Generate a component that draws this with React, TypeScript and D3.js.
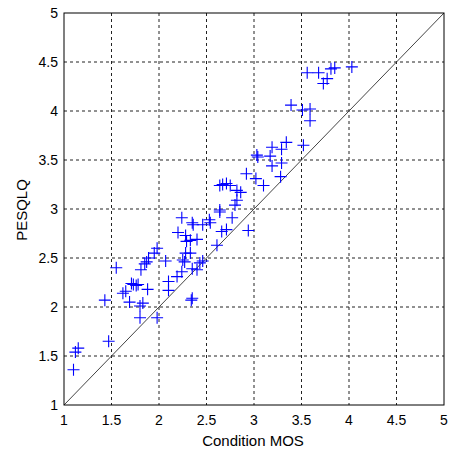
import React from "react";
import * as d3 from "d3";

const mosValues = [
  1.10, 1.12, 1.15, 1.47, 1.43, 1.55, 1.62, 1.65, 1.69, 1.71, 1.73, 1.76, 1.78, 1.80, 1.80, 1.83, 1.88, 1.98, 1.81, 1.85, 1.87, 1.89, 1.95, 1.98,
  2.07, 2.10, 2.10, 2.19, 2.24, 2.25, 2.27, 2.28, 2.33, 2.35, 2.40, 2.43, 2.46, 2.35, 2.34, 2.20, 2.28, 2.29, 2.33, 2.40, 2.24, 2.35, 2.36, 2.46, 2.54, 2.53, 2.61, 2.66, 2.71, 2.94, 2.64, 2.64, 2.77, 2.80, 2.82, 2.82, 2.86, 2.64, 2.67, 2.71, 2.75, 2.92, 3.02, 3.10,
  3.03, 3.04, 3.17, 3.19, 3.29, 3.28, 3.19, 3.29, 3.34, 3.52, 3.39, 3.51, 3.59, 3.59, 3.56, 3.68, 3.81, 3.85, 4.03, 3.77, 3.73,
];
const pesqValues = [
  1.36, 1.54, 1.58, 1.65, 2.07, 2.40, 2.14, 2.16, 2.05, 2.24, 2.23, 2.22, 2.23, 1.89, 2.01, 2.04, 2.18, 1.89, 2.38, 2.44, 2.46, 2.50, 2.55, 2.60,
  2.47, 2.26, 2.17, 2.31, 2.36, 2.48, 2.46, 2.55, 2.55, 2.39, 2.38, 2.45, 2.47, 2.09, 2.07, 2.76, 2.73, 2.67, 2.68, 2.69, 2.91, 2.86, 2.84, 2.84, 2.86, 2.89, 2.63, 2.77, 2.79, 2.78, 2.99, 2.97, 2.91, 3.04, 3.09, 3.19, 3.17, 3.24, 3.25, 3.26, 3.24, 3.36, 3.31, 3.24,
  3.55, 3.53, 3.54, 3.44, 3.47, 3.33, 3.63, 3.61, 3.68, 3.65, 4.06, 4.01, 4.02, 3.90, 4.39, 4.39, 4.43, 4.44, 4.45, 4.33, 4.28,
];
const tickValues = [1, 1.5, 2, 2.5, 3, 3.5, 4, 4.5, 5];
const tickLabels = ["1", "1.5", "2", "2.5", "3", "3.5", "4", "4.5", "5"];
const xLabel = "Condition MOS";
const yLabel = "PESQLQ";

const W = 453;
const H = 456;
const left = 64, right = 444, top = 13, bottom = 405;
const FONT = "'Liberation Sans', Arial, sans-serif";

export default function App() {
  const x = d3.scaleLinear().domain([1, 5]).range([left, right]);
  const y = d3.scaleLinear().domain([1, 5]).range([bottom, top]);
  const diag = d3.line<number>().x((d) => x(d)).y((d) => y(d))([1, 5]) || "";
  const m = 6;
  return (
    <svg width={W} height={H} style={{ position: "fixed", left: 0, top: 0, background: "#fff" }}>
      <rect x={0} y={0} width={W} height={H} fill="#fff" />
      {tickValues.slice(1, -1).map((t) => (
        <g key={"g" + t}>
          <line x1={x(t)} x2={x(t)} y1={top} y2={bottom} stroke="#222" strokeWidth={1} strokeDasharray="3,3" />
          <line x1={left} x2={right} y1={y(t)} y2={y(t)} stroke="#222" strokeWidth={1} strokeDasharray="3,3" />
        </g>
      ))}
      <path d={diag} stroke="#444" strokeWidth={1} fill="none" />
      {mosValues.map((v, i) => {
        const cx = x(v), cy = y(pesqValues[i]);
        return (
          <path key={i} d={`M${cx - m},${cy}H${cx + m}M${cx},${cy - m}V${cy + m}`} stroke="#0000ff" strokeWidth={1.1} fill="none" />
        );
      })}
      <rect x={left} y={top} width={right - left} height={bottom - top} fill="none" stroke="#000" strokeWidth={1} />
      {tickValues.map((t, i) => (
        <text key={"xt" + t} x={x(t)} y={420} textAnchor="middle" dominantBaseline="central" fontFamily={FONT} fontSize={14} fill="#000">
          {tickLabels[i]}
        </text>
      ))}
      {tickValues.map((t, i) => (
        <text key={"yt" + t} x={58} y={y(t)} textAnchor="end" dominantBaseline="central" fontFamily={FONT} fontSize={14} fill="#000">
          {tickLabels[i]}
        </text>
      ))}
      <text x={(left + right) / 2 - 1} y={440} textAnchor="middle" dominantBaseline="central" fontFamily={FONT} fontSize={15} fill="#000">
        {xLabel}
      </text>
      <text transform={`translate(21.5,${(top + bottom) / 2 + 1}) rotate(-90)`} textAnchor="middle" dominantBaseline="central" fontFamily={FONT} fontSize={15} fill="#000">
        {yLabel}
      </text>
    </svg>
  );
}
